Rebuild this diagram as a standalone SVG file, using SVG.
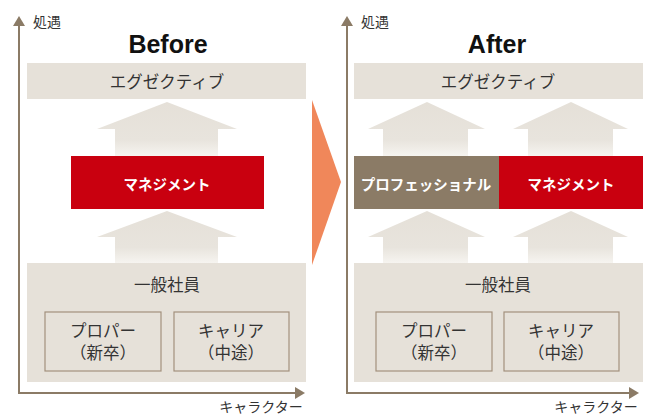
<svg xmlns="http://www.w3.org/2000/svg" width="647" height="417" viewBox="0 0 647 417">
<defs>
<linearGradient id="fade" x1="0" y1="0" x2="0" y2="1">
<stop offset="0" stop-color="#e5e0d8"/>
<stop offset="0.7" stop-color="#e8e4dd"/>
<stop offset="1" stop-color="#f6f4f0"/>
</linearGradient>
<style>
.bar{fill:#e6e1d9}
.sub{fill:#e6e1d9;stroke:#a3917d;stroke-width:1.2}
.red{fill:#c9000f}
.pro{fill:#8b7b66}
.up{fill:url(#fade)}
.axis{stroke:#8b7b66;stroke-width:2;fill:none}
.head{fill:#8b7b66}
.t{font-family:"Noto Sans CJK JP","Noto Sans",sans-serif;fill:#333;text-anchor:middle;dominant-baseline:central}
.w{fill:#fff;font-weight:bold;font-size:14.5px}
.m{font-size:16.5px}
.s{font-size:14px}
.title{font-family:"Liberation Sans",Arial,sans-serif;font-weight:bold;font-size:25px;fill:#111;text-anchor:middle;dominant-baseline:central}
</style>
</defs>
<rect width="647" height="417" fill="#fff"/>

<g id="connectors">
<path class="axis" d="M19,24 V393 H296"/>
<polygon class="head" points="19,16 13,26 25,26"/>
<polygon class="head" points="305,393 295,387 295,399"/>
<path class="axis" d="M347,24 V393 H630"/>
<polygon class="head" points="347,16 341,26 353,26"/>
<polygon class="head" points="639,393 629,387 629,399"/>
<path class="up" d="M167,102 L237,129 H218 V156 H115 V129 H97 Z"/>
<path class="up" d="M167,211 L237,237 H218 V263 H115 V237 H97 Z"/>
<path class="up" d="M427,102 L485,129 H468 V156 H383 V129 H368 Z"/>
<path class="up" d="M571,102 L628,129 H613 V156 H528 V129 H513 Z"/>
<path class="up" d="M427,211 L485,237 H468 V263 H383 V237 H368 Z"/>
<path class="up" d="M571,211 L628,237 H613 V263 H528 V237 H513 Z"/>
<polygon fill="#f0875a" points="312,100 341,182 312,265"/>
</g>

<g id="axis-labels">
<text class="t s" x="47" y="21">処遇</text>
<text class="t s" x="261" y="406">キャラクター</text>
<text class="t s" x="375" y="21">処遇</text>
<text class="t s" x="596" y="406">キャラクター</text>
</g>

<g id="before-title"><text class="title" x="168" y="44">Before</text></g>
<g id="after-title"><text class="title" x="497" y="44">After</text></g>

<g id="before-exec">
<rect class="bar" x="27" y="63" width="279" height="36"/>
<text class="t m" x="167" y="81">エグゼクティブ</text>
</g>
<g id="before-mgmt">
<rect class="red" x="71" y="156" width="193" height="53"/>
<text class="t w" x="167" y="183">マネジメント</text>
</g>
<g id="before-general">
<rect class="bar" x="27" y="263" width="279" height="119"/>
<text class="t m" x="167" y="284">一般社員</text>
</g>
<g id="before-proper">
<rect class="sub" x="45" y="312" width="116" height="59"/>
<text class="t m" x="103" y="330">プロパー</text>
<text class="t m" x="103" y="352">（新卒）</text>
</g>
<g id="before-career">
<rect class="sub" x="174" y="312" width="115" height="59"/>
<text class="t m" x="231" y="330">キャリア</text>
<text class="t m" x="231" y="352">（中途）</text>
</g>

<g id="after-exec">
<rect class="bar" x="354" y="63" width="289" height="36"/>
<text class="t m" x="498" y="81">エグゼクティブ</text>
</g>
<g id="after-pro">
<rect class="pro" x="354" y="156" width="145" height="53"/>
<text class="t w" x="426" y="183">プロフェッショナル</text>
</g>
<g id="after-mgmt">
<rect class="red" x="499" y="156" width="144" height="53"/>
<text class="t w" x="571" y="183">マネジメント</text>
</g>
<g id="after-general">
<rect class="bar" x="354" y="263" width="289" height="119"/>
<text class="t m" x="498" y="284">一般社員</text>
</g>
<g id="after-proper">
<rect class="sub" x="376" y="312" width="116" height="59"/>
<text class="t m" x="434" y="330">プロパー</text>
<text class="t m" x="434" y="352">（新卒）</text>
</g>
<g id="after-career">
<rect class="sub" x="504" y="312" width="115" height="59"/>
<text class="t m" x="561" y="330">キャリア</text>
<text class="t m" x="561" y="352">（中途）</text>
</g>
</svg>
